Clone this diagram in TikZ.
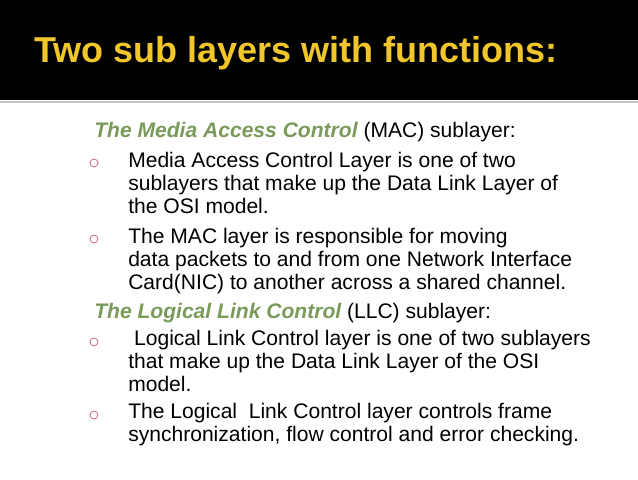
\documentclass[tikz,border=0pt]{standalone}
\usepackage{fontspec}
\setmainfont{Liberation Sans}
\definecolor{gold}{HTML}{F0C62A}
\definecolor{leaf}{HTML}{7A9A5A}
\definecolor{dot}{HTML}{C0506A}
\tikzset{
  line/.style={anchor=base west, inner sep=0pt, font=\fontsize{15.8}{18}\selectfont},
  head/.style={line, text=leaf, font=\fontsize{15.8}{18}\selectfont\bfseries\itshape},
  mark dot/.style={circle, draw=dot, line width=0.5pt, minimum size=6pt, inner sep=0pt}
}
\begin{document}
\begin{tikzpicture}[x=0.75pt, y=-0.75pt]
\useasboundingbox (0,0) rectangle (638,479);
\fill[black] (0,0) rectangle (638,100);
\fill[gray!45] (0,101) rectangle (638,103);
\node[anchor=base west, inner sep=0pt, text=gold, font=\fontsize{27}{30}\selectfont\bfseries] (title) at (34,62) {Two sub layers with functions:};
% MAC sublayer
\node[head] (mac) at (94,137) {The Media Access Control \textmd{\upshape\color{black}(MAC) sublayer:}};
\node[mark dot] (d1) at (94,163) {};
\node[line] (a1) at (128,167) {Media Access Control Layer is one of two};
\node[line] (a2) at (128,190) {sublayers that make up the Data Link Layer of};
\node[line] (a3) at (128,213) {the OSI model.};
\node[mark dot] (d2) at (94,239) {};
\node[line] (b1) at (128,243) {The MAC layer is responsible for moving};
\node[line] (b2) at (128,266) {data packets to and from one Network Interface};
\node[line] (b3) at (128,289) {Card(NIC) to another across a shared channel.};
% LLC sublayer
\node[head] (llc) at (94,318) {The Logical Link Control \textmd{\upshape\color{black}(LLC) sublayer:}};
\node[mark dot] (d3) at (94,342) {};
\node[line] (c1) at (128,345) {\ Logical Link Control layer is one of two sublayers};
\node[line] (c2) at (128,368) {that make up the Data Link Layer of the OSI};
\node[line] (c3) at (128,391) {model.};
\node[mark dot] (d4) at (94,415) {};
\node[line] (e1) at (128,418) {The Logical\ \ Link Control layer controls frame};
\node[line] (e2) at (128,441) {synchronization, flow control and error checking.};
\end{tikzpicture}
\end{document}
